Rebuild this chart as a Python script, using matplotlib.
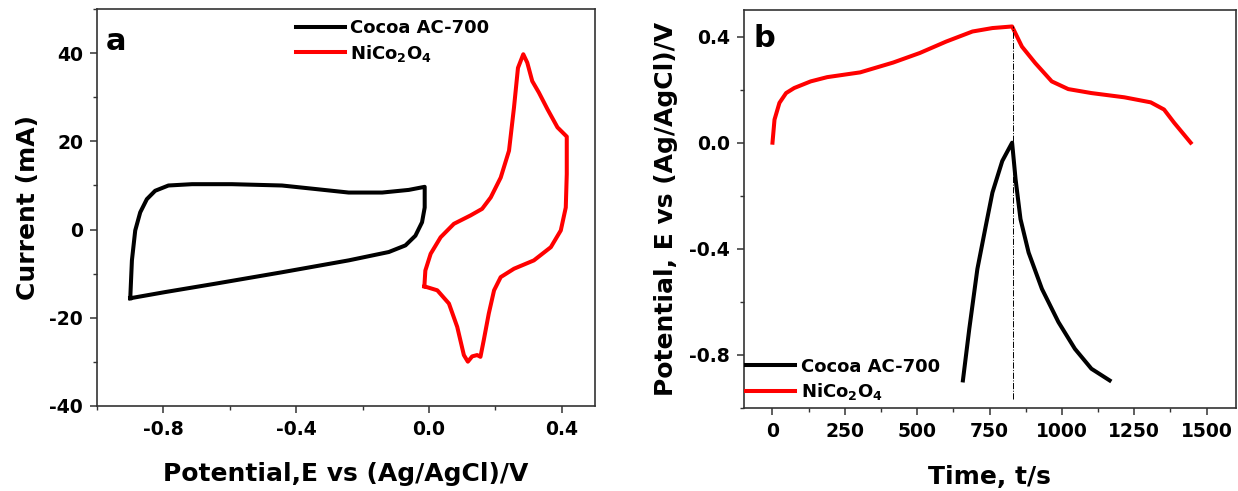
import matplotlib
matplotlib.use("Agg")
import matplotlib.pyplot as plt
from matplotlib.ticker import MultipleLocator

plt.rcParams['font.family'] = ['DejaVu Sans']
plt.rcParams['font.weight'] = 'bold'
plt.rcParams['mathtext.fontset'] = 'dejavusans'

# ---------- Panel a: CV data ----------
cv_ac_E = [-0.900, -0.895, -0.885, -0.870, -0.850, -0.825, -0.785, -0.714, -0.594, -0.443,
           -0.342, -0.242, -0.141, -0.061, -0.013, -0.013, -0.021, -0.041, -0.071, -0.121,
           -0.242, -0.443, -0.644, -0.795, -0.900]
cv_ac_I = [-15.6, -7.0, -0.2, 3.9, 6.9, 8.8, 10.0, 10.3, 10.3, 10.0,
           9.2, 8.4, 8.4, 9.0, 9.7, 5.0, 1.65, -1.4, -3.6, -5.1,
           -7.0, -9.7, -12.3, -14.2, -15.6]

cv_nco_E = [-0.014, -0.011, 0.005, 0.035, 0.075, 0.125, 0.160, 0.186, 0.216, 0.241,
            0.256, 0.268, 0.284, 0.296, 0.311, 0.331, 0.357, 0.387, 0.415, 0.415,
            0.412, 0.397, 0.367, 0.316, 0.256, 0.216, 0.196, 0.180, 0.165, 0.155,
            0.145, 0.130, 0.117, 0.105, 0.085, 0.060, 0.025, -0.014]
cv_nco_I = [-12.9, -9.3, -5.5, -1.75, 1.3, 3.2, 4.7, 7.3, 11.8, 17.9,
            27.7, 36.7, 39.8, 37.9, 33.7, 31.1, 27.3, 23.2, 21.1, 12.6,
            5.0, -0.2, -4.0, -7.0, -8.9, -10.8, -13.8, -19.1, -25.1, -28.9,
            -28.5, -28.8, -30.0, -28.5, -22.1, -16.8, -13.8, -12.9]

# ---------- Panel b: GCD data ----------
gcd_ac_t = [658, 680, 708, 737, 760, 794, 828, 840, 857, 885, 931, 988, 1045, 1102, 1165]
gcd_ac_V = [-0.896, -0.702, -0.476, -0.314, -0.188, -0.069, 0.000,
            -0.138, -0.288, -0.414, -0.551, -0.676, -0.777, -0.852, -0.896]

gcd_nco_t = [0, 7, 24, 47, 75, 132, 189, 303, 417, 509, 600, 691, 760, 828,
             862, 908, 965, 1022, 1102, 1216, 1307, 1353, 1388, 1445]
gcd_nco_V = [0.000, 0.087, 0.150, 0.187, 0.206, 0.231, 0.247, 0.265, 0.302, 0.338, 0.381, 0.419, 0.432, 0.438,
             0.362, 0.300, 0.231, 0.202, 0.187, 0.171, 0.152, 0.125, 0.075, 0.000]

switch_t = 831
switch_V = [-0.965, 0.438]

labels = ['Cocoa AC-700', r'NiCo$_\mathbf{2}$O$_\mathbf{4}$']
colors = ['black', '#ff0000']

fig = plt.figure(figsize=(12.38, 4.91), dpi=100)
ax1 = fig.add_axes([0.0784, 0.1737, 0.4022, 0.8073])
ax2 = fig.add_axes([0.6006, 0.169, 0.3974, 0.8106])

lw = 2.9
ax1.plot(cv_ac_E, cv_ac_I, color=colors[0], lw=lw, label=labels[0], solid_joinstyle='round')
ax1.plot(cv_nco_E, cv_nco_I, color=colors[1], lw=lw, label=labels[1], solid_joinstyle='round')
ax1.set_xlim(-1.0, 0.5)
ax1.set_ylim(-40, 50)
ax1.xaxis.set_minor_locator(MultipleLocator(0.2))
ax1.yaxis.set_minor_locator(MultipleLocator(10))
ax1.set_xticks([-0.8, -0.4, 0.0, 0.4])
ax1.set_xticklabels(['-0.8', '-0.4', '0.0', '0.4'])
ax1.set_yticks([-40, -20, 0, 20, 40])
ax1.set_yticklabels(['-40', '-20', '0', '20', '40'])
ax1.set_xlabel('Potential,E vs (Ag/AgCl)/V', fontsize=18, fontweight='bold', labelpad=17)
ax1.set_ylabel('Current (mA)', fontsize=18, fontweight='bold', labelpad=7)
ax1.text(0.018, 0.955, 'a', transform=ax1.transAxes, fontsize=22, fontweight='bold', va='top', ha='left')
ax1.legend(loc='upper left', bbox_to_anchor=(0.40, 0.975), frameon=False, fontsize=13,
           handlelength=2.7, handletextpad=0.3, labelspacing=0.3, borderpad=0, borderaxespad=0)

ax2.plot(gcd_ac_t, gcd_ac_V, color=colors[0], lw=lw, label=labels[0], solid_joinstyle='round')
ax2.plot(gcd_nco_t, gcd_nco_V, color=colors[1], lw=lw, label=labels[1], solid_joinstyle='round')
ax2.plot([switch_t, switch_t], switch_V, color='black', lw=0.7, ls='-.')
ax2.set_xlim(-100, 1600)
ax2.set_ylim(-1.0, 0.5)
ax2.set_xticks([0, 250, 500, 750, 1000, 1250, 1500])
ax2.xaxis.set_minor_locator(MultipleLocator(125))
ax2.set_yticks([-0.8, -0.4, 0.0, 0.4])
ax2.set_yticklabels(['-0.8', '-0.4', '0.0', '0.4'])
ax2.yaxis.set_minor_locator(MultipleLocator(0.2))
ax2.set_xlabel('Time, t/s', fontsize=18, fontweight='bold', labelpad=17)
ax2.set_ylabel('Potential, E vs (Ag/AgCl)/V', fontsize=18, fontweight='bold', labelpad=8)
ax2.text(0.02, 0.965, 'b', transform=ax2.transAxes, fontsize=22, fontweight='bold', va='top', ha='left')
ax2.legend(loc='lower left', bbox_to_anchor=(0.006, 0.015), frameon=False, fontsize=13,
           handlelength=2.7, handletextpad=0.3, labelspacing=0.3, borderpad=0, borderaxespad=0)

for ax in (ax1, ax2):
    for s in ax.spines.values():
        s.set_color('#333333')
        s.set_linewidth(1.2)
    ax.tick_params(which='major', direction='out', length=5, width=1.1, labelsize=13.5, pad=5, color='#333333')
    ax.tick_params(which='minor', direction='out', length=3, width=1.0, color='#333333')
    for lab in ax.get_xticklabels() + ax.get_yticklabels():
        lab.set_fontweight('bold')

fig.savefig('out.png', dpi=100)
